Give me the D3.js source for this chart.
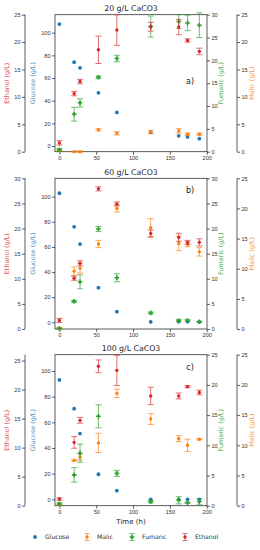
<!DOCTYPE html>
<html>
<head>
<meta charset="utf-8">
<script src="https://cdn.jsdelivr.net/npm/d3@7"></script>
<style>
  body { margin: 0; background: #fff; }
  svg { display: block; font-family: "DejaVu Sans", sans-serif; }
  .tick text { fill: #333; }
</style>
</head>
<body>
<svg id="chart" width="260" height="550"></svg>
<script>
const width = 260, height = 550;

// sampling times (h), shared by all three panels
const times = [0, 20, 28, 53, 78, 124, 162, 174, 190];

// 20 g/L CaCO3
const glucoseA = [107.6, 74, 69, 47, 29.7, 12, 9, 8, 6.5];
const ethanolA = [1.6, 10.6, 12.8, 18.6, 22.2, 22.8, 22.75, 20.3, 18.3];
const ethanolErrA = [0.4, 0.4, 0.4, 2.5, 2.8, 0.8, 1.4, 0.3, 0.6];
const fumaricA = [0.4, 8.2, 10.7, 16.3, 20.4, 27.4, 28.5, 28.2, 27.7];
const fumaricErrA = [0.3, 1.5, 0.9, 0.3, 0.7, 2.3, 1.5, 1.7, 2.7];
const malicA = [0.2, 0, 0, 4.0, 3.35, 3.6, 3.8, 3.2, 3.2];
const malicErrA = [0.1, 0.1, 0.1, 0.2, 0.3, 0.3, 0.4, 0.2, 0.2];

// 60 g/L CaCO3
const glucoseB = [102.7, 76, 62.3, 27.6, 8.5, 0.3, 0.5, 0.5, 0.3];
const ethanolB = [1.7, 10.1, 13.1, 27.9, 24.9, 19.0, 18.25, 17.25, 17.25];
const ethanolErrB = [0.4, 0.4, 0.5, 0.4, 0.4, 0.7, 0.8, 0.4, 0.7];
const fumaricB = [0.1, 5.5, 9.4, 19.9, 10.2, 3.2, 1.7, 1.7, 1.45];
const fumaricErrB = [0.1, 0.2, 1.4, 0.5, 0.8, 0.2, 0.2, 0.2, 0.1];
const malicB = [0.15, 9.6, 10.1, 14.1, 20.0, 16.8, 14.2, 14.05, 12.8];
const malicErrB = [0.1, 0.7, 0.8, 0.6, 0.6, 1.5, 1.2, 0.4, 0.7];

// 100 g/L CaCO3
const glucoseC = [93, 70.6, 51.2, 19.5, 6.75, 0, 0, 0, 0];
const ethanolC = [1.15, 10.9, 14.7, 24.0, 23.3, 18.9, 18.9, 20.5, 19.5];
const ethanolErrC = [0.2, 1.0, 0.5, 1.1, 2.6, 1.5, 0.5, 0.2, 0.4];
const fumaricC = [0.3, 5.1, 8.7, 14.8, 5.35, 0.65, 0.9, 0.5, 0.65];
const fumaricErrC = [0.2, 1.2, 1.5, 1.9, 0.5, 0.2, 0.6, 0.1, 0.5];
const malicC = [0.2, 7.5, 8.05, 10.4, 18.6, 14.35, 11.1, 10.0, 11.0];
const malicErrC = [0.1, 0.1, 0.5, 1.6, 0.7, 0.9, 0.5, 1.0, 0.1];

const titles = ["20 g/L CaCO3", "60 g/L CaCO3", "100 g/L CaCO3"];
const panelTags = ["a)", "b)", "c)"];
const xTicks = [0, 50, 100, 150, 200];
const legendNames = ["Glucose", "Malic", "Fumaric", "Ethanol"];

const colors = {
  Glucose: "#1f77b4",
  Malic: "#ff7f0e",
  Fumaric: "#2ca02c",
  Ethanol: "#d62728"
};

const panels = [
  { top: 14.7, bottom: 151.7, glu: [-5, 115.9], eth: [0, 25], fum: [0, 30], mal: [0, 25],
    glucose: glucoseA, ethanol: ethanolA, ethanolErr: ethanolErrA,
    fumaric: fumaricA, fumaricErr: fumaricErrA, malic: malicA, malicErr: malicErrA },
  { top: 178.3, bottom: 329, glu: [-5.3, 114.6], eth: [0, 30], fum: [0, 30], mal: [0, 25],
    glucose: glucoseB, ethanol: ethanolB, ethanolErr: ethanolErrB,
    fumaric: fumaricB, fumaricErr: fumaricErrB, malic: malicB, malicErr: malicErrB },
  { top: 354.7, bottom: 505.7, glu: [-5, 112.7], eth: [0, 26], fum: [0, 25], mal: [0, 25],
    glucose: glucoseC, ethanol: ethanolC, ethanolErr: ethanolErrC,
    fumaric: fumaricC, fumaricErr: fumaricErrC, malic: malicC, malicErr: malicErrC }
];

const frameLeft = 55, frameRight = 207;
const ethAxisX = 25, malAxisX = 237;
const tickFont = 5.6, labelFont = 6.4;

const svg = d3.select("#chart");

const x = d3.scaleLinear().domain([-6, 200.4]).range([frameLeft, frameRight]);

const styleAxis = (g) => {
  g.selectAll("path, line").attr("stroke", "#333").attr("stroke-width", 0.8);
  g.selectAll("text").attr("font-size", tickFont).attr("fill", "#333");
};

const drawErrSeries = (g, xs, ys, errs, y, color, shape) => {
  const pts = xs.map((t, i) => ({ t, v: ys[i], e: errs[i] }));
  const bars = g.append("g").attr("stroke", color).attr("stroke-width", 0.9).attr("opacity", 0.75);
  pts.forEach(p => {
    const cx = x(p.t), y1 = y(p.v - p.e), y2 = y(p.v + p.e);
    bars.append("line").attr("x1", cx).attr("x2", cx).attr("y1", y1).attr("y2", y2);
    bars.append("line").attr("x1", cx - 3).attr("x2", cx + 3).attr("y1", y1).attr("y2", y1);
    bars.append("line").attr("x1", cx - 3).attr("x2", cx + 3).attr("y1", y2).attr("y2", y2);
  });
  g.append("g").selectAll("path").data(pts).join("path")
    .attr("transform", p => `translate(${x(p.t)},${y(p.v)})`)
    .attr("d", d3.symbol().type(shape).size(shape === d3.symbolCross ? 12 : 9))
    .attr("fill", color);
};

panels.forEach((p, k) => {
  const yGlu = d3.scaleLinear().domain(p.glu).range([p.bottom, p.top]);
  const yEth = d3.scaleLinear().domain(p.eth).range([p.bottom, p.top]);
  const yFum = d3.scaleLinear().domain(p.fum).range([p.bottom, p.top]);
  const yMal = d3.scaleLinear().domain(p.mal).range([p.bottom, p.top]);
  const g = svg.append("g");

  // title (drawn first so the frame sits over it, as in the original)
  g.append("text")
    .attr("x", (frameLeft + frameRight) / 2).attr("y", p.top - 3.5)
    .attr("text-anchor", "middle").attr("font-size", 7.8).attr("fill", "#222")
    .text(titles[k]);

  g.append("rect")
    .attr("x", frameLeft).attr("y", p.top)
    .attr("width", frameRight - frameLeft).attr("height", p.bottom - p.top)
    .attr("fill", "#fff").attr("stroke", "#333").attr("stroke-width", 0.8);

  // axes
  g.append("g").attr("transform", `translate(0,${p.bottom})`)
    .call(d3.axisBottom(x).tickValues(xTicks).tickSize(3).tickPadding(1.5).tickSizeOuter(0))
    .call(styleAxis).call(a => a.select(".domain").remove());

  g.append("g").attr("transform", `translate(${frameLeft},0)`)
    .call(d3.axisLeft(yGlu).tickValues([0, 20, 40, 60, 80, 100]).tickSize(3).tickPadding(1.5).tickSizeOuter(0))
    .call(styleAxis).call(a => a.select(".domain").remove());

  g.append("g").attr("transform", `translate(${frameRight},0)`)
    .call(d3.axisRight(yFum).ticks(6).tickSize(3).tickPadding(1.5).tickSizeOuter(0))
    .call(styleAxis).call(a => a.select(".domain").remove());

  g.append("g").attr("transform", `translate(${ethAxisX},0)`)
    .call(d3.axisLeft(yEth).tickValues(d3.range(0, p.eth[1] + 0.1, 5)).tickSize(3).tickPadding(1.5).tickSizeOuter(0))
    .call(styleAxis)
    .call(a => a.select(".domain").attr("d", `M0,${p.bottom}V${p.top}`));

  g.append("g").attr("transform", `translate(${malAxisX},0)`)
    .call(d3.axisRight(yMal).tickValues(d3.range(0, p.mal[1] + 0.1, 5)).tickSize(3).tickPadding(1.5).tickSizeOuter(0))
    .call(styleAxis)
    .call(a => a.select(".domain").attr("d", `M0,${p.bottom}V${p.top}`));

  // axis labels
  const mid = (p.top + p.bottom) / 2;
  const yLabel = (lx, txt, color) => g.append("text")
    .attr("transform", `translate(${lx},${mid}) rotate(-90)`)
    .attr("text-anchor", "middle").attr("font-size", labelFont)
    .attr("fill", color).attr("opacity", 0.8).text(txt);
  yLabel(9, "Ethanol (g/L)", colors.Ethanol);
  yLabel(35, "Glucose (g/L)", colors.Glucose);
  yLabel(223, "Fumaric (g/L)", colors.Fumaric);
  yLabel(254, "Malic (g/L)", colors.Malic);

  // data
  const plot = g.append("g");
  plot.append("g").selectAll("circle").data(times).join("circle")
    .attr("cx", t => x(t)).attr("cy", (t, i) => yGlu(p.glucose[i]))
    .attr("r", 1.9).attr("fill", colors.Glucose);
  drawErrSeries(plot, times, p.malic, p.malicErr, yMal, colors.Malic, d3.symbolCircle);
  drawErrSeries(plot, times, p.fumaric, p.fumaricErr, yFum, colors.Fumaric, d3.symbolCross);
  drawErrSeries(plot, times, p.ethanol, p.ethanolErr, yEth, colors.Ethanol, d3.symbolCircle);

  g.append("text")
    .attr("x", 190).attr("y", p.top + (k === 0 ? 69 : 15))
    .attr("text-anchor", "middle").attr("font-size", 8).attr("fill", "#222")
    .text(panelTags[k]);
});

svg.append("text")
  .attr("x", (frameLeft + frameRight) / 2).attr("y", 524)
  .attr("text-anchor", "middle").attr("font-size", 7).attr("fill", "#222")
  .text("Time (h)");

// legend
const legendX = [35, 87, 132, 185];
const legend = svg.append("g").attr("transform", "translate(0,537)");
legendNames.forEach((name, i) => {
  const lg = legend.append("g").attr("transform", `translate(${legendX[i]},0)`);
  if (name === "Glucose") {
    lg.append("circle").attr("r", 1.9).attr("fill", colors[name]);
  } else {
    lg.append("path").attr("d", "M0,-3.5V3.5M-2.5,-3.5H2.5M-2.5,3.5H2.5")
      .attr("stroke", colors[name]).attr("stroke-width", 0.9).attr("opacity", 0.75);
    lg.append("path")
      .attr("d", d3.symbol().type(name === "Fumaric" ? d3.symbolCross : d3.symbolCircle).size(name === "Fumaric" ? 12 : 9))
      .attr("fill", colors[name]);
  }
  lg.append("text").attr("x", 10).attr("y", 2.2)
    .attr("font-size", 6.1).attr("fill", "#333").text(name);
});
</script>
</body>
</html>
